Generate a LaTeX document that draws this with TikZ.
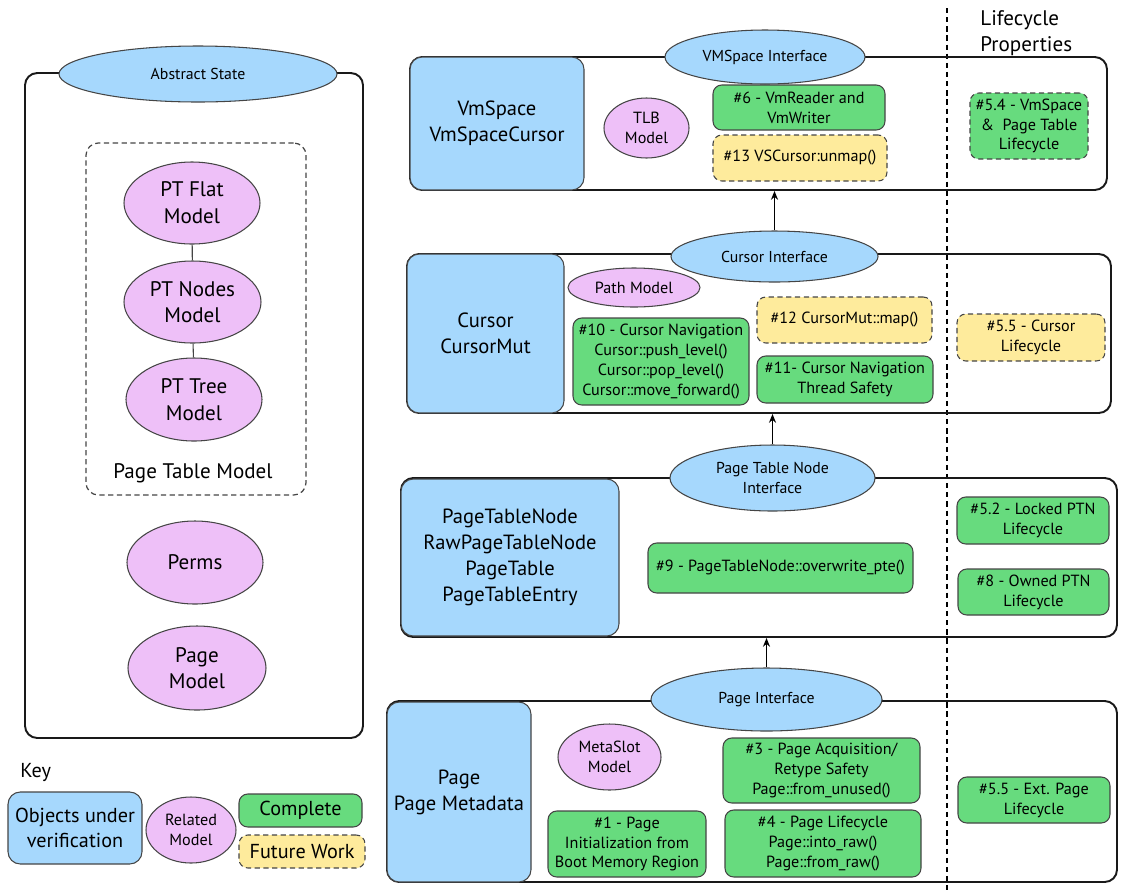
\documentclass[tikz,border=0pt]{standalone}
\usepackage{fontspec}
\setmainfont{PT Sans}
\usetikzlibrary{shapes, arrows.meta, positioning, fit, calc}

\definecolor{objblue}{HTML}{A6D8FD}
\definecolor{modelpink}{HTML}{EEC0F8}
\definecolor{donegreen}{HTML}{67DB7E}
\definecolor{todoyellow}{HTML}{FEEB9C}
\definecolor{edgegray}{HTML}{454545}

\newcommand{\bigtxt}{\fontsize{11.7}{14.7}\selectfont}
\newcommand{\lefttxt}{\fontsize{12}{15.2}\selectfont}
\newcommand{\midtxt}{\fontsize{9.2}{11.3}\selectfont}
\newcommand{\smalltxt}{\fontsize{9}{11}\selectfont}
\newcommand{\keytxt}{\fontsize{11.5}{14}\selectfont}

\begin{document}
\begin{tikzpicture}[x=0.02cm, y=-0.02cm, >={Stealth[length=5pt,width=4pt]},
    spans/.style n args={4}{at={({(#1+#3)/2},{(#2+#4)/2})}, minimum width={(#3-#1)*0.02cm}, minimum height={(#4-#2)*0.02cm}},
    container/.style={draw=black!90, line width=1.1pt, rounded corners=7pt, inner sep=0pt},
    objbox/.style={draw=edgegray, fill=objblue, line width=0.6pt, rounded corners=7pt, align=center, font=\bigtxt, inner sep=0pt},
    done/.style={draw=edgegray, fill=donegreen, line width=0.6pt, rounded corners=5pt, align=center, font=\midtxt, inner sep=0pt},
    todo/.style={done, fill=todoyellow, dash pattern=on 3pt off 2pt},
    model/.style={ellipse, draw=edgegray, fill=modelpink, line width=0.6pt, align=center, font=\midtxt, inner sep=0pt},
    iface/.style={ellipse, draw=edgegray, fill=objblue, line width=0.6pt, align=center, font=\smalltxt, inner sep=0pt}]

    \useasboundingbox (0,0) rectangle (1125,890);

    % Abstract state panel
    \node[container, spans={25}{73}{363}{738}] (abspanel) {};
    \node[iface, spans={59}{46}{337}{102}] (absif) {Abstract State};
    \node[draw=edgegray, line width=0.7pt, dash pattern=on 3pt off 2pt, rounded corners=7pt, inner sep=0pt, spans={86}{143}{306}{495}] (ptpanel) {};
    \node[model, font=\lefttxt, spans={124}{162}{260}{244}] (ptflat) {PT Flat\\Model};
    \node[model, font=\lefttxt, spans={124}{261}{261}{343}] (ptnodes) {PT Nodes\\Model};
    \node[model, font=\lefttxt, spans={126}{358}{262}{441}] (pttree) {PT Tree\\Model};
    \draw[edgegray, line width=0.6pt] (ptflat) -- (ptnodes);
    \draw[edgegray, line width=0.6pt] (ptnodes) -- (pttree);
    \node[font=\lefttxt] (ptlabel) at (193,473) {Page Table Model};
    \node[model, font=\lefttxt, spans={127}{521}{263}{604}] (perms) {Perms};
    \node[model, font=\lefttxt, spans={128}{626}{266}{710}] (pagemodel) {Page\\Model};

    % Key
    \node[font=\keytxt, anchor=west, inner sep=0pt] (keylbl) at (20,772) {Key};
    \node[objbox, font=\keytxt, spans={8}{792}{142}{864}] (keyobj) {Objects under\\verification};
    \node[model, spans={146}{797}{236}{863}] (keymodel) {Related\\Model};
    \node[done, font=\keytxt, spans={239}{794}{362}{827}] (keydone) {Complete};
    \node[todo, font=\keytxt, spans={239}{835}{365}{868}] (keytodo) {Future Work};

    % Lifecycle column
    \draw[line width=0.6pt, dash pattern=on 3pt off 2.2pt] (947,8) -- (947,890);
    \node[font=\lefttxt, anchor=north west, align=left, inner sep=0pt] (lifehead) at (980,10) {Lifecycle\\Properties};

    % Containers
    \node[container, spans={410}{57}{1107}{190}] (vmrow) {};
    \node[container, spans={407}{254}{1111}{413}] (cursorrow) {};
    \node[container, spans={401}{478}{1117}{637}] (ptnrow) {};
    \node[container, spans={387}{701}{1117}{882}] (pagerow) {};

    % VmSpace layer
    \node[objbox, spans={410}{57}{584}{190}] (vmobj) {VmSpace\\VmSpaceCursor};
    \node[iface, spans={665}{30}{865}{84}] (vmif) {VMSpace Interface};
    \node[model, spans={604}{98}{689}{158}] (tlb) {TLB\\Model};
    \node[done, spans={713}{85}{885}{130}] (t6) {\#6 - VmReader and\\VmWriter};
    \node[todo, spans={713}{135}{887}{181}] (t13) {\#13 VSCursor:unmap()};
    \node[done, dash pattern=on 3pt off 2pt, spans={970}{93}{1088}{159}] (t54) {\#5.4 - VmSpace\\\&\ \ Page Table\\Lifecycle};

    % Cursor layer
    \node[objbox, spans={407}{254}{564}{413}] (cursorobj) {Cursor\\CursorMut};
    \node[iface, spans={671}{231}{878}{282}] (cursorif) {Cursor Interface};
    \node[model, spans={568}{268}{700}{307}] (pathmodel) {Path Model};
    \node[done, spans={573}{318}{749}{405}] (t10) {\#10 - Cursor Navigation\\Cursor::push\_level()\\Cursor::pop\_level()\\Cursor::move\_forward()};
    \node[todo, spans={757}{297}{932}{343}] (t12) {\#12 CursorMut::map()};
    \node[done, spans={757}{356}{933}{403}] (t11) {\#11- Cursor Navigation\\Thread Safety};
    \node[todo, spans={957}{314}{1105}{361}] (t55c) {\#5.5 - Cursor\\Lifecycle};

    % Page table node layer
    \node[objbox, spans={401}{479}{619}{636}] (ptnobj) {PageTableNode\\RawPageTableNode\\PageTable\\PageTableEntry};
    \node[iface, spans={670}{445}{875}{511}] (ptnif) {Page Table Node\\Interface};
    \node[done, spans={648}{543}{913}{593}] (t9) {\#9 - PageTableNode::overwrite\_pte()};
    \node[done, spans={957}{497}{1109}{544}] (t52) {\#5.2 - Locked PTN\\Lifecycle};
    \node[done, spans={958}{569}{1109}{615}] (t8) {\#8 - Owned PTN\\Lifecycle};

    % Page layer
    \node[objbox, spans={387}{702}{531}{882}] (pageobj) {Page\\Page Metadata};
    \node[iface, spans={651}{668}{882}{731}] (pageif) {Page Interface};
    \node[model, spans={558}{724}{661}{790}] (metaslot) {MetaSlot\\Model};
    \node[done, spans={723}{738}{920}{803}] (t3) {\#3 - Page Acquisition/\\Retype Safety\\Page::from\_unused()};
    \node[done, spans={548}{811}{706}{877}] (t1) {\#1 - Page\\Initialization from\\Boot Memory Region};
    \node[done, spans={725}{810}{921}{877}] (t4) {\#4 - Page Lifecycle\\Page::into\_raw()\\Page::from\_raw()};
    \node[done, spans={958}{777}{1110}{823}] (t55p) {\#5.5 - Ext. Page\\Lifecycle};

    % Arrows
    \draw[->, line width=0.8pt] (cursorif.north) -- (cursorif.north |- vmrow.south);
    \draw[->, line width=0.8pt] (ptnif.north) -- (ptnif.north |- cursorrow.south);
    \draw[->, line width=0.8pt] (pageif.north) -- (pageif.north |- ptnrow.south);
\end{tikzpicture}
\end{document}
